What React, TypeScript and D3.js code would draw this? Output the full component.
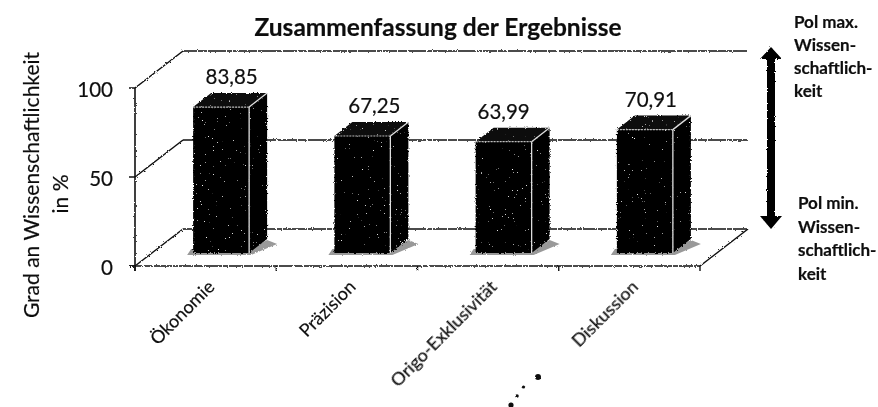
import React from "react";
import * as d3 from "d3";

const categories = ["Ökonomie", "Präzision", "Origo-Exklusivität", "Diskussion"];
const values = [83.85, 67.25, 63.99, 70.91];
const valueLabels = ["83,85", "67,25", "63,99", "70,91"];
const yTicks = [0, 50, 100];
const poleMax = ["Pol max.", "Wissen-", "schaftlich-", "keit"];
const poleMin = ["Pol min.", "Wissen-", "schaftlich-", "keit"];

const FONT = "Lato, 'Open Sans', sans-serif";
const W = 878, H = 407;
const x0 = 135, x1 = 700, yBottom = 266, yTop = 88;
const depthX = 48, depthY = -37;
const barDX = 18, barDY = -14;
const labelShift = [10.5, 12, 0, 6];

export default function App() {
  const x = d3.scaleBand<string>().domain(categories).range([x0, x1]);
  const y = d3.scaleLinear().domain([0, 100]).range([yBottom, yTop]);
  const barY = d3.scaleLinear().domain([0, 100]).range([253, 79]);
  const barW = 56;
  const barLeft = (c: string) => (x(c) as number) + x.bandwidth() / 2 + 15.5 - barW / 2;
  const poly = (pts: number[][]) => (d3.line()(pts as [number, number][]) as string) + "Z";
  const dash = "14 1 9 1 18 1 5 1";
  return (
    <svg width={W} height={H} viewBox={`0 0 ${W} ${H}`}
      style={{ position: "fixed", left: 0, top: 0, background: "#fff" }} fontFamily={FONT}>
      <defs>
        <filter id="rough" x="-5%" y="-5%" width="110%" height="110%">
          <feTurbulence type="fractalNoise" baseFrequency="0.8" numOctaves={2} seed={3} />
          <feDisplacementMap in="SourceGraphic" scale={2.4} />
        </filter>
        <filter id="roughText" x="-5%" y="-10%" width="110%" height="120%">
          <feTurbulence type="fractalNoise" baseFrequency="0.9" numOctaves={1} seed={7} />
          <feDisplacementMap in="SourceGraphic" scale={1.3} />
        </filter>
        <filter id="speck" x="-5%" y="-5%" width="110%" height="110%">
          <feTurbulence type="fractalNoise" baseFrequency="0.75" numOctaves={2} seed={11} result="n" />
          <feColorMatrix in="n" type="matrix"
            values="0 0 0 0 1  0 0 0 0 1  0 0 0 0 1  9 0 0 0 -6.9" result="w" />
          <feComposite in="w" in2="SourceAlpha" operator="in" result="sp" />
          <feDisplacementMap in="SourceGraphic" in2="n" scale={3} result="d" />
          <feMerge>
            <feMergeNode in="d" />
            <feMergeNode in="sp" />
          </feMerge>
        </filter>
      </defs>
      <g filter="url(#roughText)" fill="#111" stroke="#111" strokeWidth={0.2}>
        <text x={438} y={36} textAnchor="middle" fontSize={24.5} fontWeight={700}>
          Zusammenfassung der Ergebnisse
        </text>
        {categories.map((c, i) => (
          <text key={c} x={barLeft(c) + barW / 2 + labelShift[i]} y={barY(values[i]) + barDY - 9}
            textAnchor="middle" fontSize={20.5}>
            {valueLabels[i]}
          </text>
        ))}
        {yTicks.map((t) => (
          <text key={t} x={113} y={y(t) + 9} textAnchor="end" fontSize={20.5}>{t}</text>
        ))}
        {categories.map((c) => {
          const tx = (x(c) as number) + x.bandwidth() / 2 + 10;
          return (
            <text key={c} transform={`translate(${tx},${yBottom + 22}) rotate(-45)`}
              textAnchor="end" fontSize={18}>{c}</text>
          );
        })}
        <text transform="translate(39,185) rotate(-90)" textAnchor="middle" fontSize={21}>
          Grad an Wissenschaftlichkeit
        </text>
        <text transform="translate(68,194) rotate(-90)" textAnchor="middle" fontSize={21}>
          in %
        </text>
        {poleMax.map((s, i) => (
          <text key={i} x={794} y={28 + i * 23} fontSize={17} fontWeight={700}>{s}</text>
        ))}
        {poleMin.map((s, i) => (
          <text key={i} x={798} y={209 + i * 23.5} fontSize={17} fontWeight={700}>{s}</text>
        ))}
      </g>
      <g filter="url(#rough)">
        {yTicks.map((t) => (
          <g key={t} stroke="#111" fill="none" strokeWidth={1.5}>
            <line x1={x0} x2={x0 + depthX} y1={y(t)} y2={y(t) + depthY} />
            <line x1={x0 + depthX} x2={x1 + depthX} y1={y(t) + depthY} y2={y(t) + depthY}
              strokeDasharray={dash} />
            <line x1={x0 - 6} x2={x0} y1={y(t)} y2={y(t)} />
          </g>
        ))}
        <line x1={x0} x2={x0} y1={yTop} y2={yBottom + 5} stroke="#111" strokeWidth={1.6} />
        <line x1={x0 - 6} x2={x1} y1={yBottom} y2={yBottom} stroke="#111" strokeWidth={1.6}
          strokeDasharray={dash} />
        <line x1={x1} x2={x1 + depthX} y1={yBottom} y2={yBottom + depthY} stroke="#111" strokeWidth={1.5} />
        {d3.range(0, categories.length + 1).map((i) => {
          const tx = x0 + i * x.step();
          return <line key={i} x1={tx} x2={tx} y1={yBottom} y2={yBottom + 5} stroke="#111" strokeWidth={1.4} />;
        })}
        {categories.map((c) => {
          const l = barLeft(c), r = l + barW, b = barY(0);
          return (
            <path key={c}
              d={poly([[l - 6, b + 2], [r + 2, b + 2], [r + barDX + 10, b - 9], [r + barDX, b - 13], [r, b - 4], [l - 2, b - 4]])}
              fill="#999" />
          );
        })}
        <path d={poly([[771, 47], [782, 59], [775, 59], [775, 216], [782, 216], [771, 229], [760, 216], [767, 216], [767, 59], [760, 59]])}
          fill="#000" />
        <g fill="#111">
          <circle cx={538} cy={377} r={3} />
          <circle cx={523.5} cy={387} r={1.6} />
          <circle cx={517} cy={396} r={1.8} />
          <circle cx={511} cy={405} r={2.6} />
        </g>
      </g>
      {categories.map((c, i) => {
        const l = barLeft(c), r = l + barW, b = barY(0), t = barY(values[i]);
        return (
          <g key={c}>
            <g filter="url(#speck)">
              <path d={poly([[l, t], [l + barDX, t + barDY], [r + barDX, t + barDY], [r, t]])} fill="#0a0a0a" />
              <path d={poly([[r, t], [r + barDX, t + barDY], [r + barDX, b + barDY], [r, b]])} fill="#050505" />
              <rect x={l} y={t} width={barW} height={b - t} fill="#050505" />
            </g>
            <line x1={r} y1={t} x2={r} y2={b} stroke="#ddd" strokeWidth={1.3} />
            <line x1={r} y1={t} x2={r + barDX} y2={t + barDY} stroke="#ddd" strokeWidth={1.3} />
            <line x1={l} y1={t} x2={r} y2={t} stroke="#bbb" strokeWidth={1.2} strokeDasharray="2 1" />
          </g>
        );
      })}
    </svg>
  );
}
